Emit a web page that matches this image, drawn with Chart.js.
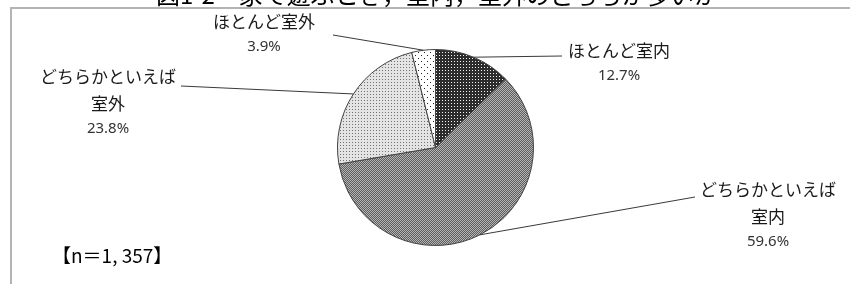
<!DOCTYPE html>
<html>
<head>
<meta charset="utf-8">
<script src="https://cdn.jsdelivr.net/npm/chart.js@4"></script>
<style>
  html, body { margin: 0; padding: 0; background: #fff; }
  #wrap { position: relative; width: 850px; height: 284px; }
</style>
</head>
<body>
<div id="wrap"><canvas id="chart"></canvas></div>
<script>
const titleText = '図1-2　家で遊ぶとき，室内，室外のどちらが多いか';
const categories = ['ほとんど室内', 'どちらかといえば室内', 'どちらかといえば室外', 'ほとんど室外'];
const labelLines = [['ほとんど室内'], ['どちらかといえば', '室内'], ['どちらかといえば', '室外'], ['ほとんど室外']];
const shares = [12.7, 59.6, 23.8, 3.9];
const sampleNote = '【n＝1, 357】';

// where each label sits, and where its leader line stops
const labelPos = [
    {x: 619, y: 51, lx: 562, ly: 56},
    {x: 768, y: 190, lx: 695, ly: 197},
    {x: 108, y: 77, lx: 181, ly: 86},
    {x: 264, y: 22, lx: 333, ly: 35}
];

function makePattern(size, bg, dots, color) {
    const c = document.createElement('canvas');
    c.width = size; c.height = size;
    const g = c.getContext('2d');
    g.fillStyle = bg;
    g.fillRect(0, 0, size, size);
    g.fillStyle = color;
    dots.forEach(function(d) { g.fillRect(d[0], d[1], 1, 1); });
    return g.createPattern(c, 'repeat');
}

const fills = [
    makePattern(3, '#2c2c2c', [[1, 1]], '#f4f4f4'),
    makePattern(2, '#5e5e5e', [[0, 0], [1, 1]], '#b4b4b4'),
    makePattern(3, '#e4e4e4', [[1, 1]], '#707070'),
    makePattern(6, '#ffffff', [[1, 1], [4, 4]], '#222222')
];

const decor = {
    id: 'decor',
    beforeDraw: function(chart) {
        const ctx = chart.ctx;
        ctx.save();
        ctx.fillStyle = '#fff';
        ctx.fillRect(0, 0, chart.width, chart.height);
        ctx.strokeStyle = '#b4b4b4';
        ctx.lineWidth = 2;
        ctx.beginPath();
        ctx.moveTo(11, chart.height + 2);
        ctx.lineTo(11, 8);
        ctx.lineTo(chart.width + 2, 8);
        ctx.stroke();
        ctx.fillStyle = '#000';
        ctx.font = '24px "Noto Sans CJK JP"';
        ctx.textAlign = 'center';
        ctx.textBaseline = 'alphabetic';
        ctx.fillText(titleText, 437, 4);
        ctx.restore();
    },
    afterDraw: function(chart) {
        const ctx = chart.ctx;
        const arcs = chart.getDatasetMeta(0).data;
        ctx.save();
        arcs.forEach(function(arc, i) {
            const p = arc.getProps(['x', 'y', 'startAngle', 'endAngle', 'outerRadius'], true);
            const mid = (p.startAngle + p.endAngle) / 2;
            const sx = p.x + Math.cos(mid) * p.outerRadius;
            const sy = p.y + Math.sin(mid) * p.outerRadius;
            const pos = labelPos[i];
            ctx.strokeStyle = '#3a3a3a';
            ctx.lineWidth = 1;
            ctx.beginPath();
            ctx.moveTo(sx, sy);
            ctx.lineTo(pos.lx, pos.ly);
            ctx.stroke();

            ctx.textAlign = 'center';
            ctx.textBaseline = 'middle';
            ctx.fillStyle = '#1a1a1a';
            ctx.font = '17px "Noto Sans CJK JP"';
            const lines = labelLines[i];
            lines.forEach(function(t, k) {
                ctx.fillText(t, pos.x, pos.y + k * 27);
            });
            ctx.fillStyle = '#333';
            ctx.font = '15px "Noto Sans"';
            ctx.fillText(shares[i].toFixed(1) + '%', pos.x, pos.y + (lines.length - 1) * 27 + 25);
        });
        ctx.fillStyle = '#000';
        ctx.font = '19px "Noto Sans CJK JP"';
        ctx.textAlign = 'left';
        ctx.textBaseline = 'middle';
        ctx.fillText(sampleNote, 52, 256);
        ctx.restore();
    }
};

new Chart(document.getElementById('chart'), {
    type: 'pie',
    data: {
        labels: categories,
        datasets: [{
            data: shares,
            backgroundColor: fills,
            borderColor: '#444',
            borderWidth: 1
        }]
    },
    options: {
        responsive: true,
        maintainAspectRatio: false,
        animation: false,
        layout: {
            padding: {left: 337, right: 316, top: 49, bottom: 38}
        },
        plugins: {
            legend: {display: false},
            tooltip: {enabled: false},
            title: {display: false}
        }
    },
    plugins: [decor]
});
</script>
</body>
</html>
